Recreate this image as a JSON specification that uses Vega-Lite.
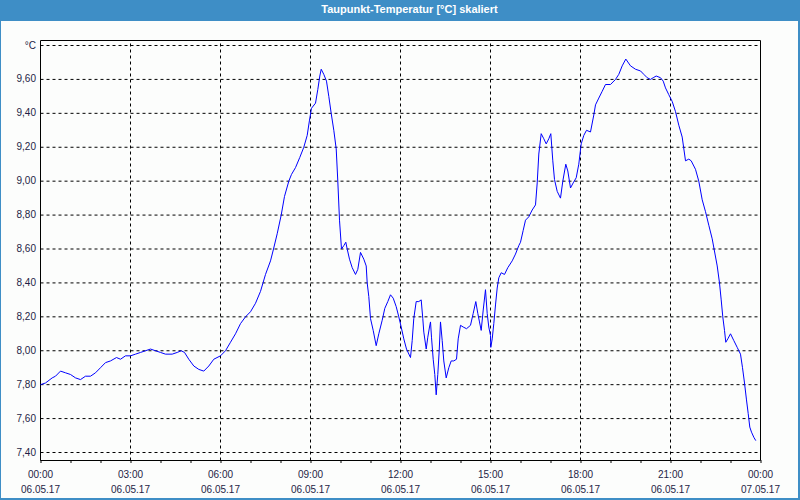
{
  "$schema": "https://vega.github.io/schema/vega-lite/v6.json",
  "width": 797,
  "height": 477,
  "autosize": {"type": "none"},
  "padding": {"left": 1, "top": 21, "right": 2, "bottom": 2},
  "background": "#3e8ec6",
  "title": {"text": "Taupunkt-Temperatur [°C] skaliert", "color": "#ffffff", "font": "Liberation Sans", "fontSize": 11, "fontWeight": "bold", "anchor": "middle", "frame": "group", "baseline": "middle", "offset": 0, "dx": 10},
  "config": {
    "view": {"fill": "#fcfdfc", "stroke": null},
    "axis": {"labelFont": "Liberation Sans", "labelFontSize": 10, "labelColor": "#1e1e46", "grid": false, "domain": false, "labelOverlap": false, "labelBound": false, "labelFlush": false}
  },
  "resolve": {"axis": {"x": "independent", "y": "independent"}},
  "datasets": {
    "hgrid": [{"wert": 7.4}, {"wert": 7.6}, {"wert": 7.8}, {"wert": 8.0}, {"wert": 8.2}, {"wert": 8.4}, {"wert": 8.6}, {"wert": 8.8}, {"wert": 9.0}, {"wert": 9.2}, {"wert": 9.4}, {"wert": 9.6}, {"wert": 9.8}],
    "vgrid": [{"stunde": 3}, {"stunde": 6}, {"stunde": 9}, {"stunde": 12}, {"stunde": 15}, {"stunde": 18}, {"stunde": 21}],
    "taupunkt": [
      {"stunde": 0.0, "wert": 7.80}, {"stunde": 0.167, "wert": 7.81}, {"stunde": 0.39, "wert": 7.84}, {"stunde": 0.5, "wert": 7.85},
      {"stunde": 0.667, "wert": 7.88}, {"stunde": 0.833, "wert": 7.87}, {"stunde": 1.0, "wert": 7.86}, {"stunde": 1.167, "wert": 7.84},
      {"stunde": 1.333, "wert": 7.83}, {"stunde": 1.5, "wert": 7.85}, {"stunde": 1.667, "wert": 7.85}, {"stunde": 1.833, "wert": 7.87},
      {"stunde": 2.0, "wert": 7.90}, {"stunde": 2.167, "wert": 7.93}, {"stunde": 2.333, "wert": 7.94}, {"stunde": 2.533, "wert": 7.96},
      {"stunde": 2.667, "wert": 7.95}, {"stunde": 2.833, "wert": 7.97}, {"stunde": 3.0, "wert": 7.97}, {"stunde": 3.167, "wert": 7.98},
      {"stunde": 3.333, "wert": 7.99}, {"stunde": 3.5, "wert": 8.00}, {"stunde": 3.667, "wert": 8.01}, {"stunde": 3.833, "wert": 8.00},
      {"stunde": 4.0, "wert": 7.99}, {"stunde": 4.167, "wert": 7.98}, {"stunde": 4.39, "wert": 7.98}, {"stunde": 4.557, "wert": 7.99},
      {"stunde": 4.69, "wert": 8.00}, {"stunde": 4.8, "wert": 7.99}, {"stunde": 4.943, "wert": 7.95}, {"stunde": 5.11, "wert": 7.91},
      {"stunde": 5.277, "wert": 7.89}, {"stunde": 5.443, "wert": 7.88}, {"stunde": 5.61, "wert": 7.91}, {"stunde": 5.777, "wert": 7.95},
      {"stunde": 6.0, "wert": 7.97}, {"stunde": 6.167, "wert": 8.00}, {"stunde": 6.333, "wert": 8.05}, {"stunde": 6.5, "wert": 8.10},
      {"stunde": 6.667, "wert": 8.16}, {"stunde": 6.833, "wert": 8.20}, {"stunde": 7.0, "wert": 8.23}, {"stunde": 7.167, "wert": 8.28},
      {"stunde": 7.333, "wert": 8.35}, {"stunde": 7.5, "wert": 8.45}, {"stunde": 7.667, "wert": 8.53}, {"stunde": 7.767, "wert": 8.60},
      {"stunde": 7.89, "wert": 8.69}, {"stunde": 8.023, "wert": 8.80}, {"stunde": 8.133, "wert": 8.91}, {"stunde": 8.277, "wert": 9.00},
      {"stunde": 8.367, "wert": 9.04}, {"stunde": 8.5, "wert": 9.08}, {"stunde": 8.643, "wert": 9.14}, {"stunde": 8.777, "wert": 9.20},
      {"stunde": 8.89, "wert": 9.27}, {"stunde": 8.967, "wert": 9.36}, {"stunde": 9.033, "wert": 9.43}, {"stunde": 9.167, "wert": 9.46},
      {"stunde": 9.243, "wert": 9.54}, {"stunde": 9.31, "wert": 9.62}, {"stunde": 9.357, "wert": 9.66}, {"stunde": 9.443, "wert": 9.63},
      {"stunde": 9.533, "wert": 9.59}, {"stunde": 9.61, "wert": 9.50}, {"stunde": 9.69, "wert": 9.40}, {"stunde": 9.777, "wert": 9.30},
      {"stunde": 9.857, "wert": 9.19}, {"stunde": 9.91, "wert": 9.00}, {"stunde": 9.967, "wert": 8.77}, {"stunde": 10.033, "wert": 8.60},
      {"stunde": 10.11, "wert": 8.62}, {"stunde": 10.177, "wert": 8.64}, {"stunde": 10.223, "wert": 8.60}, {"stunde": 10.3, "wert": 8.54},
      {"stunde": 10.39, "wert": 8.49}, {"stunde": 10.5, "wert": 8.45}, {"stunde": 10.577, "wert": 8.48}, {"stunde": 10.667, "wert": 8.58},
      {"stunde": 10.777, "wert": 8.54}, {"stunde": 10.857, "wert": 8.50}, {"stunde": 10.89, "wert": 8.40}, {"stunde": 10.943, "wert": 8.32},
      {"stunde": 11.0, "wert": 8.19}, {"stunde": 11.09, "wert": 8.12}, {"stunde": 11.19, "wert": 8.03}, {"stunde": 11.277, "wert": 8.10},
      {"stunde": 11.39, "wert": 8.18}, {"stunde": 11.477, "wert": 8.25}, {"stunde": 11.577, "wert": 8.29}, {"stunde": 11.667, "wert": 8.33},
      {"stunde": 11.757, "wert": 8.31}, {"stunde": 11.857, "wert": 8.26}, {"stunde": 11.943, "wert": 8.20}, {"stunde": 12.023, "wert": 8.14},
      {"stunde": 12.11, "wert": 8.07}, {"stunde": 12.2, "wert": 8.01}, {"stunde": 12.333, "wert": 7.96}, {"stunde": 12.39, "wert": 8.06},
      {"stunde": 12.443, "wert": 8.19}, {"stunde": 12.523, "wert": 8.29}, {"stunde": 12.61, "wert": 8.29}, {"stunde": 12.69, "wert": 8.30},
      {"stunde": 12.743, "wert": 8.19}, {"stunde": 12.777, "wert": 8.11}, {"stunde": 12.857, "wert": 8.01}, {"stunde": 12.91, "wert": 8.08},
      {"stunde": 12.967, "wert": 8.14}, {"stunde": 13.0, "wert": 8.17}, {"stunde": 13.033, "wert": 8.08}, {"stunde": 13.09, "wert": 7.95},
      {"stunde": 13.143, "wert": 7.86}, {"stunde": 13.19, "wert": 7.74}, {"stunde": 13.243, "wert": 7.86}, {"stunde": 13.29, "wert": 8.00},
      {"stunde": 13.333, "wert": 8.17}, {"stunde": 13.39, "wert": 8.06}, {"stunde": 13.443, "wert": 7.94}, {"stunde": 13.523, "wert": 7.84},
      {"stunde": 13.61, "wert": 7.90}, {"stunde": 13.69, "wert": 7.94}, {"stunde": 13.777, "wert": 7.94}, {"stunde": 13.867, "wert": 7.95},
      {"stunde": 13.923, "wert": 8.07}, {"stunde": 14.0, "wert": 8.15}, {"stunde": 14.09, "wert": 8.14}, {"stunde": 14.2, "wert": 8.13},
      {"stunde": 14.333, "wert": 8.15}, {"stunde": 14.423, "wert": 8.22}, {"stunde": 14.51, "wert": 8.29}, {"stunde": 14.577, "wert": 8.22},
      {"stunde": 14.633, "wert": 8.17}, {"stunde": 14.69, "wert": 8.12}, {"stunde": 14.757, "wert": 8.24}, {"stunde": 14.833, "wert": 8.36},
      {"stunde": 14.89, "wert": 8.22}, {"stunde": 14.943, "wert": 8.14}, {"stunde": 15.0, "wert": 8.09}, {"stunde": 15.01, "wert": 8.02},
      {"stunde": 15.057, "wert": 8.07}, {"stunde": 15.11, "wert": 8.16}, {"stunde": 15.167, "wert": 8.27}, {"stunde": 15.223, "wert": 8.37},
      {"stunde": 15.277, "wert": 8.43}, {"stunde": 15.357, "wert": 8.46}, {"stunde": 15.467, "wert": 8.45}, {"stunde": 15.577, "wert": 8.49},
      {"stunde": 15.723, "wert": 8.53}, {"stunde": 15.833, "wert": 8.57}, {"stunde": 15.943, "wert": 8.62}, {"stunde": 16.0, "wert": 8.64},
      {"stunde": 16.09, "wert": 8.71}, {"stunde": 16.167, "wert": 8.77}, {"stunde": 16.277, "wert": 8.79}, {"stunde": 16.39, "wert": 8.83},
      {"stunde": 16.5, "wert": 8.86}, {"stunde": 16.557, "wert": 8.99}, {"stunde": 16.61, "wert": 9.16}, {"stunde": 16.69, "wert": 9.28},
      {"stunde": 16.777, "wert": 9.25}, {"stunde": 16.857, "wert": 9.22}, {"stunde": 16.943, "wert": 9.25}, {"stunde": 17.01, "wert": 9.28},
      {"stunde": 17.077, "wert": 9.12}, {"stunde": 17.133, "wert": 9.01}, {"stunde": 17.223, "wert": 8.94}, {"stunde": 17.333, "wert": 8.90},
      {"stunde": 17.41, "wert": 9.00}, {"stunde": 17.51, "wert": 9.10}, {"stunde": 17.577, "wert": 9.06}, {"stunde": 17.667, "wert": 8.96},
      {"stunde": 17.757, "wert": 8.99}, {"stunde": 17.857, "wert": 9.02}, {"stunde": 17.943, "wert": 9.10}, {"stunde": 18.023, "wert": 9.22},
      {"stunde": 18.11, "wert": 9.27}, {"stunde": 18.2, "wert": 9.30}, {"stunde": 18.333, "wert": 9.29}, {"stunde": 18.443, "wert": 9.39},
      {"stunde": 18.5, "wert": 9.45}, {"stunde": 18.61, "wert": 9.49}, {"stunde": 18.723, "wert": 9.53}, {"stunde": 18.833, "wert": 9.57},
      {"stunde": 19.0, "wert": 9.57}, {"stunde": 19.167, "wert": 9.60}, {"stunde": 19.277, "wert": 9.63}, {"stunde": 19.39, "wert": 9.68},
      {"stunde": 19.51, "wert": 9.72}, {"stunde": 19.667, "wert": 9.68}, {"stunde": 19.833, "wert": 9.66}, {"stunde": 20.0, "wert": 9.65},
      {"stunde": 20.11, "wert": 9.63}, {"stunde": 20.223, "wert": 9.61}, {"stunde": 20.333, "wert": 9.60}, {"stunde": 20.423, "wert": 9.61},
      {"stunde": 20.523, "wert": 9.62}, {"stunde": 20.667, "wert": 9.61}, {"stunde": 20.757, "wert": 9.59}, {"stunde": 20.833, "wert": 9.55},
      {"stunde": 20.943, "wert": 9.51}, {"stunde": 21.057, "wert": 9.47}, {"stunde": 21.167, "wert": 9.41}, {"stunde": 21.277, "wert": 9.33},
      {"stunde": 21.39, "wert": 9.26}, {"stunde": 21.5, "wert": 9.12}, {"stunde": 21.61, "wert": 9.13}, {"stunde": 21.69, "wert": 9.12},
      {"stunde": 21.833, "wert": 9.07}, {"stunde": 21.943, "wert": 9.00}, {"stunde": 22.057, "wert": 8.89}, {"stunde": 22.167, "wert": 8.82},
      {"stunde": 22.277, "wert": 8.74}, {"stunde": 22.39, "wert": 8.66}, {"stunde": 22.557, "wert": 8.50}, {"stunde": 22.633, "wert": 8.40},
      {"stunde": 22.69, "wert": 8.30}, {"stunde": 22.743, "wert": 8.20}, {"stunde": 22.8, "wert": 8.12}, {"stunde": 22.843, "wert": 8.05},
      {"stunde": 22.91, "wert": 8.07}, {"stunde": 23.0, "wert": 8.10}, {"stunde": 23.11, "wert": 8.06}, {"stunde": 23.223, "wert": 8.02},
      {"stunde": 23.333, "wert": 7.98}, {"stunde": 23.4, "wert": 7.90}, {"stunde": 23.467, "wert": 7.81}, {"stunde": 23.533, "wert": 7.71},
      {"stunde": 23.59, "wert": 7.63}, {"stunde": 23.643, "wert": 7.55}, {"stunde": 23.7, "wert": 7.52}, {"stunde": 23.777, "wert": 7.49},
      {"stunde": 23.843, "wert": 7.47}
    ]
  },
  "layer": [
    {
      "data": {"name": "hgrid"},
      "mark": {"type": "rule", "color": "#000000", "strokeWidth": 1, "strokeDash": [3, 3]},
      "encoding": {
        "y": {"field": "wert", "type": "quantitative", "scale": {"domain": [7.1317, 9.9445], "nice": false, "zero": false}, "axis": null},
        "x": {"datum": 0, "type": "quantitative", "scale": {"domain": [-1.3167, 25.25], "nice": false, "zero": false}, "axis": null},
        "x2": {"datum": 24}
      }
    },
    {
      "data": {"name": "vgrid"},
      "mark": {"type": "rule", "color": "#000000", "strokeWidth": 1, "strokeDash": [3, 3]},
      "encoding": {
        "x": {"field": "stunde", "type": "quantitative", "scale": {"domain": [-1.3167, 25.25], "nice": false, "zero": false}, "axis": null},
        "y": {"datum": 7.3528, "type": "quantitative", "scale": {"domain": [7.1317, 9.9445], "nice": false, "zero": false}, "axis": null},
        "y2": {"datum": 9.8295}
      }
    },
    {
      "data": {"values": [{}]},
      "mark": {"type": "rect", "filled": false, "stroke": "#000000", "strokeWidth": 1},
      "encoding": {
        "x": {"datum": 0, "type": "quantitative", "scale": {"domain": [-1.3167, 25.25], "nice": false, "zero": false}, "axis": null},
        "x2": {"datum": 24},
        "y": {"datum": 7.3528, "type": "quantitative", "scale": {"domain": [7.1317, 9.9445], "nice": false, "zero": false}, "axis": null},
        "y2": {"datum": 9.8295}
      }
    },
    {
      "data": {"name": "taupunkt"},
      "mark": {"type": "line", "color": "#0000ff", "strokeWidth": 1},
      "encoding": {
        "x": {
          "field": "stunde", "type": "quantitative",
          "scale": {"domain": [-1.3167, 25.25], "nice": false, "zero": false},
          "axis": {
            "orient": "bottom", "offset": -38, "title": null, "translate": 0,
            "values": [0, 1, 2, 3, 4, 5, 6, 7, 8, 9, 10, 11, 12, 13, 14, 15, 16, 17, 18, 19, 20, 21, 22, 23, 24],
            "ticks": true, "tickSize": 3, "tickColor": "#000000", "tickWidth": 1,
            "labelPadding": 7, "labelLineHeight": 15, "labelFlush": false, "labelOverlap": false, "labelBound": false,
            "labelExpr": "datum.value % 3 == 0 ? [(datum.value == 24 ? '00' : format(datum.value, '02d')) + ':00', datum.value == 24 ? '07.05.17' : '06.05.17'] : ''"
          }
        },
        "y": {
          "field": "wert", "type": "quantitative",
          "scale": {"domain": [7.1317, 9.9445], "nice": false, "zero": false},
          "axis": {
            "orient": "left", "offset": -39, "title": null, "translate": 0,
            "values": [7.4, 7.6, 7.8, 8.0, 8.2, 8.4, 8.6, 8.8, 9.0, 9.2, 9.4, 9.6, 9.8],
            "ticks": false, "labelPadding": 4, "labelOverlap": false, "labelBound": false,
            "labelExpr": "datum.value > 9.7 ? '°C' : replace(format(datum.value, '.2f'), '.', ',')"
          }
        }
      }
    }
  ]
}
